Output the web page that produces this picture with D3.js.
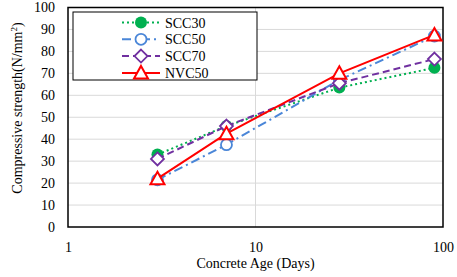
<!DOCTYPE html>
<html>
<head>
<meta charset="utf-8">
<script src="https://cdn.jsdelivr.net/npm/d3@7"></script>
<style>
  body { margin: 0; background: #fff; }
  svg { display: block; font-family: "Liberation Serif", "Times New Roman", serif; }
</style>
</head>
<body>
<svg id="chart" width="457" height="277"></svg>
<script>
// data
const ages = [3, 7, 28, 90];
const scc30 = [33, 46, 63.5, 72.5];
const scc50 = [21.5, 37.5, 67, 87];
const scc70 = [31, 46, 65.5, 76.5];
const nvc50 = [22, 42.5, 70, 87.5];
const seriesNames = ["SCC30", "SCC50", "SCC70", "NVC50"];
const yTicks = [0, 10, 20, 30, 40, 50, 60, 70, 80, 90, 100];
const xTicks = [1, 10, 100];

const size = { width: 457, height: 277 };
const margin = { left: 68, right: 14, top: 7.5, bottom: 50 };

const svg = d3.select("#chart");

const x = d3.scaleLog()
  .domain([1, 100])
  .range([margin.left, size.width - margin.right]);
const y = d3.scaleLinear()
  .domain([0, 100])
  .range([size.height - margin.bottom, margin.top]);

// grid lines
svg.append("g")
  .selectAll("line")
  .data(yTicks.slice(1))
  .join("line")
  .attr("x1", x(1)).attr("x2", x(100))
  .attr("y1", d => y(d)).attr("y2", d => y(d))
  .attr("stroke", "#d9d9d9").attr("stroke-width", 1);
svg.append("line")
  .attr("x1", x(10)).attr("x2", x(10))
  .attr("y1", y(0)).attr("y2", y(100))
  .attr("stroke", "#d9d9d9").attr("stroke-width", 1);

// frame
svg.append("rect")
  .attr("x", x(1)).attr("y", y(100))
  .attr("width", x(100) - x(1)).attr("height", y(0) - y(100))
  .attr("fill", "none").attr("stroke", "#000").attr("stroke-width", 1.5);

// axes
const yAxis = svg.append("g")
  .attr("transform", `translate(${ x(1) },0)`)
  .call(d3.axisLeft(y).tickValues(yTicks).tickSize(0).tickPadding(13));
yAxis.select(".domain").remove();
yAxis.selectAll("text").style("font-size", "14px").style("font-family", "Liberation Serif").attr("fill", "#000");

const xAxis = svg.append("g")
  .attr("transform", `translate(0,${ y(0) })`)
  .call(d3.axisBottom(x).tickValues(xTicks).tickFormat(d3.format("d")).tickSize(0).tickPadding(15));
xAxis.select(".domain").remove();
xAxis.selectAll("text").style("font-size", "14px").style("font-family", "Liberation Serif").attr("fill", "#000");

svg.append("text")
  .attr("x", x(10)).attr("y", 268)
  .attr("text-anchor", "middle")
  .style("font-size", "14px")
  .text("Concrete Age (Days)");

svg.append("text")
  .attr("transform", `translate(22, 108) rotate(-90)`)
  .attr("text-anchor", "middle")
  .style("font-size", "14px")
  .html("Compressive strength(N/mm<tspan dy='-5' font-size='9px'>2</tspan><tspan dy='5'>)</tspan>");

// series styles
const styles = [
  { values: scc30, color: "#00b050", dash: "2,3", marker: "dot" },
  { values: scc50, color: "#4a86d8", dash: "9,4,2,4", marker: "circle" },
  { values: scc70, color: "#7030a0", dash: "7,4", marker: "diamond" },
  { values: nvc50, color: "#ff0000", dash: null, marker: "triangle" }
];

const line = d3.line().x((d, i) => x(ages[i])).y(d => y(d));

function drawMarker(g, kind, color, cx, cy)
{
  if (kind === "dot")
  {
    g.append("circle").attr("cx", cx).attr("cy", cy).attr("r", 6).attr("fill", color);
  } else if (kind === "circle")
  {
    g.append("circle").attr("cx", cx).attr("cy", cy).attr("r", 5.5)
      .attr("fill", "#fff").attr("stroke", color).attr("stroke-width", 1.8);
  } else if (kind === "diamond")
  {
    g.append("path").attr("d", `M${ cx },${ cy - 6.5 }L${ cx + 6.5 },${ cy }L${ cx },${ cy + 6.5 }L${ cx - 6.5 },${ cy }Z`)
      .attr("fill", "#fff").attr("stroke", color).attr("stroke-width", 1.8);
  } else
  {
    g.append("path").attr("d", `M${ cx },${ cy - 7 }L${ cx + 7 },${ cy + 5.5 }L${ cx - 7 },${ cy + 5.5 }Z`)
      .attr("fill", "#fff").attr("stroke", color).attr("stroke-width", 2);
  }
}

styles.forEach(s =>
{
  const g = svg.append("g");
  g.append("path")
    .attr("d", line(s.values))
    .attr("fill", "none")
    .attr("stroke", s.color)
    .attr("stroke-width", 2)
    .attr("stroke-dasharray", s.dash);
  s.values.forEach((v, i) => drawMarker(g, s.marker, s.color, x(ages[i]), y(v)));
});

// legend
const legend = svg.append("g");
legend.append("rect")
  .attr("x", 73).attr("y", 12).attr("width", 184).attr("height", 68)
  .attr("fill", "#fff").attr("stroke", "#000").attr("stroke-width", 1);
styles.forEach((s, i) =>
{
  const ly = 22.5 + i * 16.8;
  legend.append("line")
    .attr("x1", 122).attr("x2", 160).attr("y1", ly).attr("y2", ly)
    .attr("stroke", s.color).attr("stroke-width", 2)
    .attr("stroke-dasharray", s.dash);
  drawMarker(legend, s.marker, s.color, 141, ly);
  legend.append("text")
    .attr("x", 165).attr("y", ly + 5)
    .style("font-size", "14px")
    .text(seriesNames[i]);
});
</script>
</body>
</html>
